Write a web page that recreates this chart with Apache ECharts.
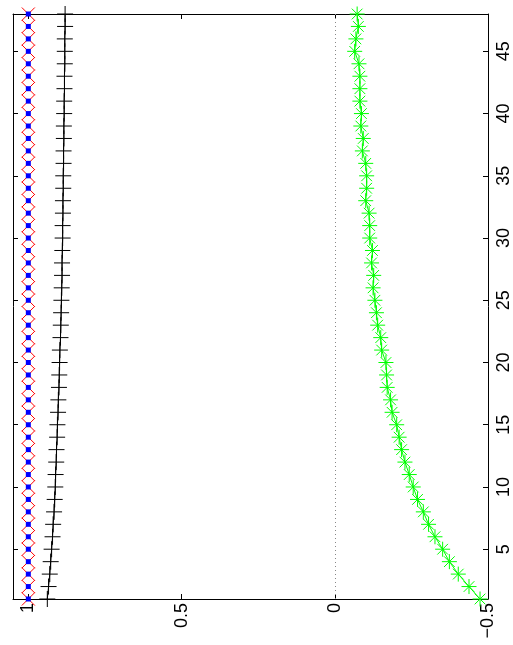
<!DOCTYPE html>
<html>
<head>
<meta charset="utf-8">
<script src="https://cdn.jsdelivr.net/npm/echarts@6/dist/echarts.min.js"></script>
<style>
  html, body { margin: 0; padding: 0; background: #fff; }
  #chart { width: 513px; height: 645px; }
</style>
</head>
<body>
<div id="chart"></div>
<script>
// 样本序号（纵轴）
const steps = [1, 2, 3, 4, 5, 6, 7, 8, 9, 10, 11, 12, 13, 14, 15, 16, 17, 18, 19, 20, 21, 22, 23, 24,
  25, 26, 27, 28, 29, 30, 31, 32, 33, 34, 35, 36, 37, 38, 39, 40, 41, 42, 43, 44, 45, 46, 47, 48]
// 各曲线数值（横轴）
const redVals = [1, 1, 1, 1, 1, 1, 1, 1, 1, 1, 1, 1, 1, 1, 1, 1, 1, 1, 1, 1, 1, 1, 1, 1,
  1, 1, 1, 1, 1, 1, 1, 1, 1, 1, 1, 1, 1, 1, 1, 1, 1, 1, 1, 1, 1, 1, 1, 1]
const blueVals = [1, 1, 1, 1, 1, 1, 1, 1, 1, 1, 1, 1, 1, 1, 1, 1, 1, 1, 1, 1, 1, 1, 1, 1,
  1, 1, 1, 1, 1, 1, 1, 1, 1, 1, 1, 1, 1, 1, 1, 1, 1, 1, 1, 1, 1, 1, 1, 1]
const blackVals = [0.938, 0.934, 0.930, 0.927, 0.924, 0.921, 0.919, 0.916, 0.914, 0.912, 0.911, 0.909,
  0.908, 0.906, 0.905, 0.903, 0.902, 0.900, 0.899, 0.898, 0.897, 0.895, 0.894, 0.893,
  0.892, 0.891, 0.890, 0.890, 0.889, 0.888, 0.888, 0.887, 0.887, 0.886, 0.886, 0.885,
  0.885, 0.884, 0.884, 0.883, 0.883, 0.882, 0.882, 0.881, 0.881, 0.881, 0.880, 0.880]
const greenVals = [-0.474, -0.438, -0.403, -0.374, -0.352, -0.327, -0.306, -0.289, -0.270, -0.256, -0.243, -0.229,
  -0.218, -0.210, -0.202, -0.187, -0.182, -0.171, -0.169, -0.167, -0.153, -0.150, -0.140, -0.136,
  -0.131, -0.125, -0.127, -0.120, -0.123, -0.114, -0.114, -0.112, -0.101, -0.104, -0.104, -0.101,
  -0.090, -0.093, -0.085, -0.087, -0.082, -0.082, -0.082, -0.079, -0.065, -0.069, -0.077, -0.073]
const valueTicks = [-0.5, 0, 0.5, 1]
const stepTicks = [5, 10, 15, 20, 25, 30, 35, 40, 45]
const zeroLine = 0

const font = 'Liberation Sans, Arial, Helvetica, sans-serif'
const pair = vals => vals.map((v, i) => [v, steps[i]])

const xMark = 'path://M0,0L10,10M10,0L0,10'
const plusMark = 'path://M8,0L8,16M0,8L16,8'
const starMark = 'path://M8,0L8,16M0,8L16,8M2.3,2.3L13.7,13.7M13.7,2.3L2.3,13.7'

const valueAxisBase = {
  type: 'value',
  inverse: true,
  min: -0.5,
  max: 1.05,
  splitLine: { show: false },
  axisLine: { show: true, onZero: false, lineStyle: { color: '#000', width: 1 } },
  axisTick: { show: true, inside: true, length: 5, customValues: valueTicks, lineStyle: { color: '#000' } }
}
const stepAxisBase = {
  type: 'value',
  min: 1,
  max: 48,
  splitLine: { show: false },
  axisLine: { show: true, onZero: false, lineStyle: { color: '#000', width: 1 } },
  axisTick: { show: true, inside: true, length: 5, customValues: stepTicks, lineStyle: { color: '#000' } }
}

const chart = echarts.init(document.getElementById('chart'))
chart.setOption({
  animation: false,
  backgroundColor: '#fff',
  grid: { left: 13, right: 24, top: 14, bottom: 46 },
  xAxis: [
    {
      ...valueAxisBase,
      position: 'bottom',
      axisLabel: {
        rotate: 90,
        margin: 4,
        fontSize: 18,
        fontFamily: font,
        color: '#000',
        customValues: valueTicks,
        formatter: v => (v < 0 ? '\u2212' + Math.abs(v) : String(v))
      }
    },
    { ...valueAxisBase, position: 'top', axisLabel: { show: false } }
  ],
  yAxis: [
    {
      ...stepAxisBase,
      position: 'right',
      axisLabel: {
        rotate: 90,
        margin: 7,
        fontSize: 18,
        fontFamily: font,
        color: '#000',
        customValues: stepTicks
      }
    },
    { ...stepAxisBase, position: 'left', axisLabel: { show: false } }
  ],
  series: [
    {
      type: 'line',
      data: pair(greenVals),
      symbol: starMark,
      symbolSize: 15,
      lineStyle: { color: '#00ff00', width: 1 },
      itemStyle: { color: 'none', borderColor: '#00ff00', borderWidth: 1 },
      markLine: {
        silent: true,
        symbol: 'none',
        label: { show: false },
        lineStyle: { color: '#888', type: [1, 3], width: 1 },
        data: [{ xAxis: zeroLine }]
      },
      z: 3
    },
    {
      type: 'line',
      data: pair(blackVals),
      symbol: plusMark,
      symbolSize: 16,
      lineStyle: { color: '#000', width: 1 },
      itemStyle: { color: 'none', borderColor: '#000', borderWidth: 1 },
      z: 3
    },
    {
      type: 'line',
      data: pair(redVals),
      symbol: xMark,
      symbolSize: 13,
      lineStyle: { opacity: 0 },
      itemStyle: { color: 'none', borderColor: '#ff0000', borderWidth: 1 },
      z: 3
    },
    {
      type: 'line',
      data: pair(blueVals),
      symbol: 'rect',
      symbolSize: 5,
      lineStyle: { opacity: 0 },
      itemStyle: { color: '#0000ff', borderWidth: 0 },
      z: 4
    }
  ]
})
</script>
</body>
</html>
